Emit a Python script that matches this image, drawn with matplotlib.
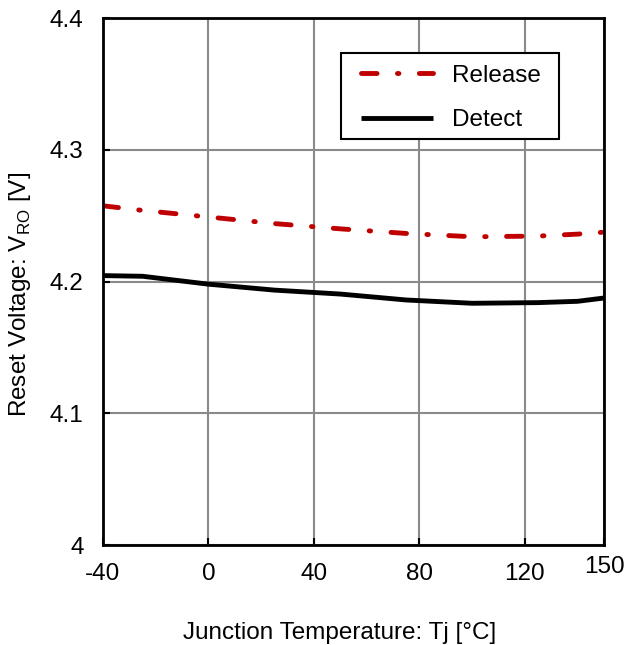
import numpy as np
import matplotlib
matplotlib.use("Agg")
import matplotlib.pyplot as plt
import matplotlib.transforms as mtransforms
from matplotlib.patches import Rectangle

plt.rcParams['font.family'] = ['Liberation Sans', 'DejaVu Sans']

# junction temperature [degC] and reset voltage [V]
temp = [-40, -25, 0, 25, 50, 75, 100, 125, 140, 150]
v_release = [4.2575, 4.2540, 4.2490, 4.2440, 4.2400, 4.2365, 4.2340, 4.2345, 4.2360, 4.2375]
v_detect = [4.2045, 4.2040, 4.1980, 4.1935, 4.1905, 4.1860, 4.1835, 4.1840, 4.1850, 4.1875]

xticks = [-40, 0, 40, 80, 120, 150]
yticks = [4.0, 4.1, 4.2, 4.3, 4.4]
ytick_labels = ["4", "4.1", "4.2", "4.3", "4.4"]

fs = 17.5

fig = plt.figure(figsize=(6.25, 6.45), dpi=100)
ax = fig.add_axes([0.1648, 0.155, 0.8016, 0.817])

ax.plot(temp, v_release, color="#C00000", linewidth=3.5,
        dashes=(3.2, 4.2, 0.3, 4.2), dash_capstyle="round", label="Release")
ax.plot(temp, v_detect, color="black", linewidth=3.5,
        solid_capstyle="butt", label="Detect")

ax.set_xlim(-40, 150)
ax.set_ylim(4.0, 4.4)
ax.set_xticks(xticks)
ax.set_xticklabels([str(t) for t in xticks])
ax.set_yticks(yticks)
ax.set_yticklabels(ytick_labels)

ax.grid(True, color="#8a8a8a", linewidth=1.5)
ax.set_axisbelow(True)
for s in ax.spines.values():
    s.set_linewidth(2)
    s.set_color("black")

ax.tick_params(axis="both", direction="in", length=5, width=1.5,
               labelsize=fs, colors="black")
ax.tick_params(axis="y", pad=14)
ax.tick_params(axis="x", pad=13)

# raise the last x label a bit
lbl = ax.get_xticklabels()[-1]
offset = mtransforms.ScaledTranslation(0, 7 / 100, fig.dpi_scale_trans)
lbl.set_transform(lbl.get_transform() + offset)

ax.set_xlabel("Junction Temperature: Tj [°C]", fontsize=fs)
ax.set_ylabel("Reset Voltage: V$_{\\mathregular{RO}}$ [V]", fontsize=fs)
ax.xaxis.set_label_coords(0.473, -0.146)
ax.yaxis.set_label_coords(-0.140, 0.475)

# legend entries without frame, box drawn separately for wider side margins
leg = ax.legend(loc="upper left", bbox_to_anchor=(0.515, 0.911),
                borderaxespad=0, borderpad=0, fontsize=fs, frameon=False,
                handlelength=2.95, handletextpad=0.8, labelspacing=0.91)
box = Rectangle((0.475, 0.770), 0.435, 0.1636, transform=ax.transAxes,
                facecolor="white", edgecolor="black", linewidth=1.5, zorder=4)
ax.add_patch(box)
leg.set_zorder(5)

fig.savefig("out.png", dpi=100)
